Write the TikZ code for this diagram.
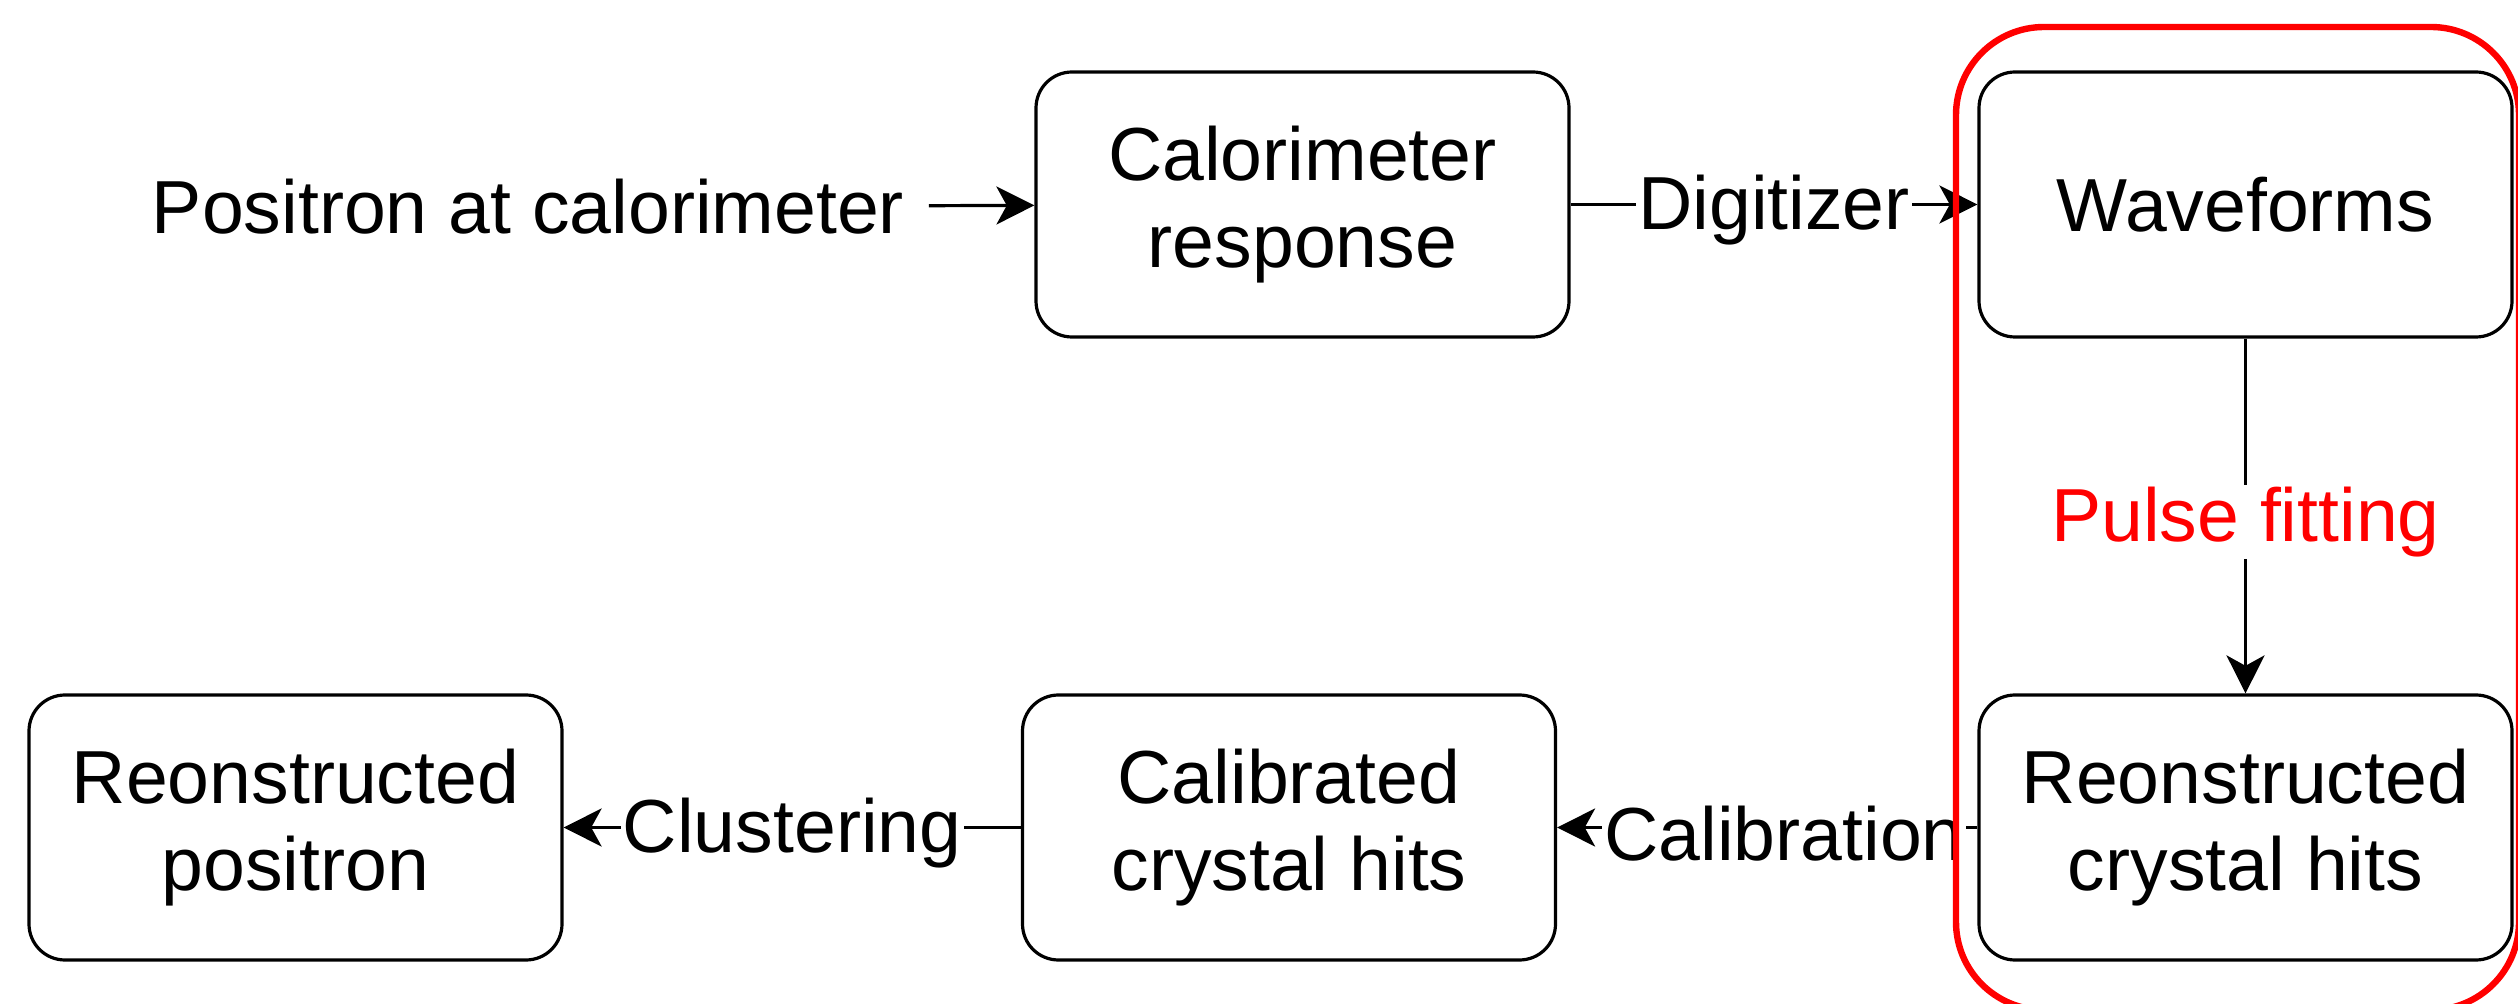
\documentclass[tikz,border=0pt]{standalone}
\usepackage{fontspec}
\setmainfont{Liberation Sans}
\usetikzlibrary{arrows.meta}
\begin{document}
\begin{tikzpicture}[x=0.25pt,y=-0.25pt,
  txt/.style={font=\fontsize{18.8}{21.8}\selectfont},
  box/.style={txt, draw=black, line width=0.8pt, rounded corners=9pt,
    minimum width=133.25pt, minimum height=66.25pt, align=center, inner sep=0pt},
  lbl/.style={txt, fill=white, inner sep=0.6pt, yshift=-1.5pt},
  conn/.style={draw=black, line width=0.8pt, -{Stealth[length=9.5pt,width=9.5pt,inset=2.6pt]}},
  hl/.style={draw=red, line width=1.6pt, rounded corners=22pt},
]
\clip (0,0) rectangle (2518,1004);
\fill[white] (0,0) rectangle (2518,1004);

\node[txt, inner ysep=0pt, inner xsep=6pt] (src) at (528,207) {Positron at calorimeter};
\node[box] (cal)  at (1302.5,204.5) {Calorimeter\\response};
\node[box] (wave) at (2245.5,204.5) {Waveforms};
\node[box] (rch)  at (2245.5,827.5) {Reonstructed\\crystal hits};
\node[box] (calib) at (1289,827.5) {Calibrated\\crystal hits};
\node[box] (rpos) at (295.5,827.5) {Reonstructed\\positron};

\draw[conn] (src) -- (cal);
\draw[conn] (cal) -- node[lbl] {Digitizer} (wave);
\draw[conn] (wave) -- node[lbl, text=red] {Pulse fitting} (rch);
\draw[conn] (rch) -- node[lbl, pos=0.46] {Calibration} (calib);
\draw[conn] (calib) -- node[lbl] {Clustering} (rpos);

\draw[hl] (1956,27) rectangle (2519,1010);
\end{tikzpicture}
\end{document}
